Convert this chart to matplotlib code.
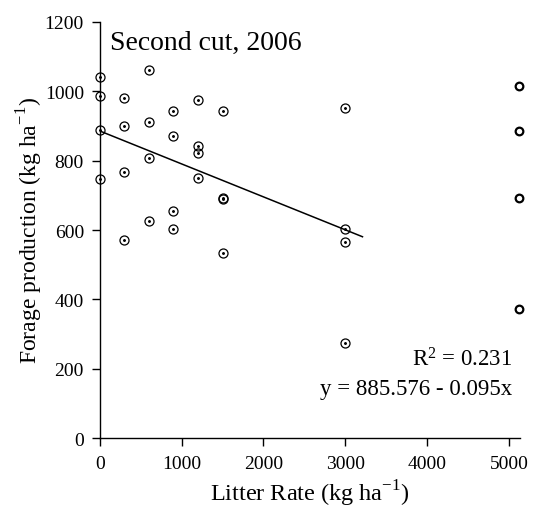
import matplotlib.pyplot as plt

plt.rcParams['font.family'] = ['Liberation Serif', 'DejaVu Serif']
plt.rcParams['mathtext.fontset'] = 'custom'
plt.rcParams['mathtext.rm'] = 'Liberation Serif'

# litter rate (kg/ha) and forage production (kg/ha), 4 reps per rate
rate = [0, 0, 0, 0,
        300, 300, 300, 300,
        600, 600, 600, 600,
        900, 900, 900, 900,
        1200, 1200, 1200, 1200,
        1500, 1500, 1500, 1500,
        3000, 3000, 3000, 3000]
forage = [1042, 987, 887, 747,
          981, 900, 768, 571,
          1062, 911, 808, 627,
          942, 872, 655, 603,
          976, 843, 823, 751,
          942, 693, 690, 534,
          951, 603, 566, 274]

# open circles on the right edge
edge_x = [5120, 5120, 5120, 5120]
edge_y = [1016, 886, 691, 372]

# fitted line y = a + b x
a, b = 885.576, -0.095
fit_x = [0, 3210]
fit_y = [a + b * v for v in fit_x]

fig = plt.figure(figsize=(5.34, 5.10), dpi=100)
ax = fig.add_axes([0.187, 0.139, 0.786, 0.816])

ax.plot(rate, forage, 'o', ms=6.5, mfc='none', mec='black', mew=0.9, clip_on=False)
ax.plot(rate, forage, '.', ms=2.2, color='black', clip_on=False)
ax.plot(fit_x, fit_y, color='black', lw=1.1)
ax.plot(edge_x, edge_y, 'o', ms=5.5, mfc='none', mec='black', mew=1.6, clip_on=False)

ax.set_xlim(0, 5130)
ax.set_ylim(0, 1200)
ax.set_xticks([0, 1000, 2000, 3000, 4000, 5000])
ax.set_yticks([0, 200, 400, 600, 800, 1000, 1200])
ax.spines['top'].set_visible(False)
ax.spines['right'].set_visible(False)
ax.spines['left'].set_linewidth(1.0)
ax.spines['bottom'].set_linewidth(1.0)
ax.tick_params(axis='both', direction='out', length=5.5, width=1.0, labelsize=14)
ax.tick_params(axis='y', pad=6)
ax.tick_params(axis='x', pad=7)

ax.set_xlabel('Litter Rate (kg ha$^{-1}$)', fontsize=17.5, labelpad=4)
ax.set_ylabel('Forage production (kg ha$^{-1}$)', fontsize=17, labelpad=0)

ax.text(0.025, 0.98, 'Second cut, 2006', transform=ax.transAxes, fontsize=20,
        ha='left', va='top')
ax.text(0.983, 0.19, '$\\mathregular{R^2}$ = 0.231', transform=ax.transAxes,
        fontsize=16.5, ha='right', va='center')
ax.text(0.983, 0.12, 'y = 885.576 - 0.095x', transform=ax.transAxes,
        fontsize=16.5, ha='right', va='center')

fig.savefig('out.png', dpi=100)
